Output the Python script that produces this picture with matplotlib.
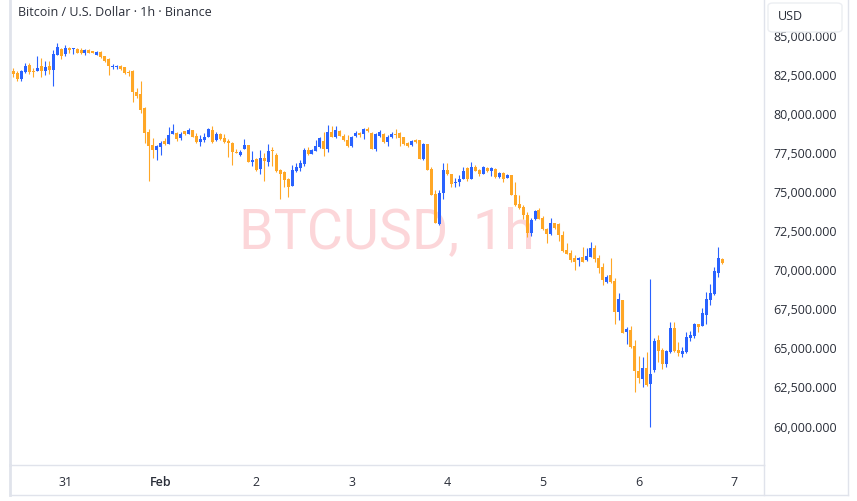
import matplotlib.pyplot as plt
import matplotlib.dates as mdates
from matplotlib.patches import FancyBboxPatch
from matplotlib.lines import Line2D
import numpy as np
import pandas as pd

# hourly BTC/USD candles, Jan 30 11:00 -> Feb 6 21:00
opens = [82692, 82564, 82180, 82628, 83076, 82692, 82692, 83012, 82692, 83012,
         82756, 83716, 84100, 83780, 84164, 84100, 84100, 84036, 83844, 84036,
         83972, 83716, 83908, 83652, 83460, 82948, 82948, 83012, 82948, 82628,
         82692, 81348, 81220, 80324, 78788, 77956, 77636, 77828, 78212, 78020,
         78660, 78724, 78404, 78852, 78660, 78916, 78532, 78148, 78276, 78468,
         78916, 78276, 78660, 78404, 78212, 78084, 77508, 77316, 77700, 77956,
         76868, 77060, 76420, 77124, 76868, 77636, 77316, 76356, 76228, 75780,
         75332, 76292, 76484, 76740, 77636, 77380, 77572, 77828, 78212, 77700,
         78788, 78468, 78852, 78532, 78276, 77892, 78532, 78724, 78660, 78980,
         78724, 77700, 78532, 78660, 78148, 78468, 78660, 78724, 78468, 78084,
         77956, 78276, 78276, 77060, 78020, 76420, 74820, 72900, 74884, 76356,
         76100, 75524, 75588, 75780, 76484, 75780, 76548, 76356, 76100, 76484,
         76292, 76420, 75908, 76164, 75844, 76036, 74756, 74180, 73988, 73476,
         72324, 73220, 73796, 73284, 72580, 72260, 72964, 72900, 72196, 71236,
         71044, 70724, 70596, 70788, 70596, 70788, 71364, 70724, 70148, 69188,
         69636, 69252, 67268, 68036, 65988, 66116, 65092, 63492, 62980, 63684,
         62660, 63556, 65476, 64836, 63940, 64708, 66244, 64836, 64580, 64708,
         65604, 65732, 66500, 66372, 67076, 68036, 68420, 69764, 70660]
highs = [82884, 82692, 82756, 83204, 83204, 82884, 83652, 83524, 83332, 83332,
         84036, 84484, 84164, 84356, 84228, 84164, 84164, 84164, 84100, 84100,
         83972, 83972, 83972, 83652, 83524, 83140, 83076, 83076, 82948, 82756,
         82756, 81604, 82052, 80388, 78980, 78404, 77956, 78212, 78404, 79108,
         79300, 78788, 78788, 78852, 79044, 78916, 78724, 78596, 78724, 79044,
         79172, 78788, 78724, 78660, 78340, 78148, 77700, 77636, 78340, 77956,
         77572, 77124, 77636, 77444, 78020, 77828, 77444, 76420, 76292, 75844,
         76676, 76804, 76996, 77764, 77828, 77700, 78276, 78468, 78788, 79236,
         79172, 79172, 78916, 78660, 78596, 78532, 78852, 78788, 79044, 79108,
         78788, 78724, 78916, 78724, 78596, 78788, 78980, 78788, 78468, 78148,
         78276, 78340, 78276, 78084, 78020, 76548, 75076, 75076, 76804, 76804,
         76100, 75844, 76036, 76548, 76548, 76868, 76676, 76420, 76612, 76548,
         76548, 76484, 76228, 76228, 76100, 76036, 75588, 74756, 74116, 73668,
         73284, 73796, 73924, 73412, 72644, 73284, 72964, 72964, 72452, 71684,
         71236, 70916, 70788, 71428, 71364, 71748, 71556, 70916, 70404, 69636,
         70724, 69444, 68484, 68036, 66308, 66372, 65476, 64452, 64388, 64708,
         69380, 65604, 65796, 64964, 64836, 66628, 66628, 65348, 65028, 65988,
         66052, 66564, 66500, 67524, 68548, 69060, 70148, 71428, 70724]
lows = [82308, 82052, 82052, 82564, 82500, 82308, 82692, 82308, 82436, 82500,
        81732, 83716, 83460, 83652, 83844, 83780, 83844, 83780, 83716, 83844,
        83844, 83716, 83524, 83268, 82436, 82820, 82820, 82756, 82500, 82372,
        80708, 80964, 80004, 78084, 75652, 77124, 76996, 77316, 77956, 78020,
        78660, 78212, 78276, 78596, 78660, 78468, 78084, 77892, 78148, 78468,
        78084, 78212, 78276, 78084, 77188, 76676, 77444, 77252, 77700, 76868,
        76612, 76292, 76100, 75652, 76612, 76612, 76228, 74500, 75268, 74628,
        75332, 76228, 76292, 76612, 77316, 77380, 77572, 77764, 77252, 77508,
        78468, 78404, 78532, 78212, 77828, 77828, 78468, 78468, 78340, 78788,
        77700, 77572, 78468, 78084, 77892, 78404, 78404, 77892, 77956, 77828,
        77892, 78084, 77060, 76996, 76356, 74756, 72964, 72836, 74500, 76036,
        75268, 75268, 75332, 75780, 75652, 75780, 76292, 75972, 76100, 76228,
        75972, 75844, 75844, 75588, 75844, 74756, 74052, 73860, 73220, 72068,
        72132, 73156, 73220, 72516, 71684, 72196, 72580, 71812, 71108, 70980,
        70468, 69956, 70212, 70468, 70532, 70788, 70468, 69764, 68996, 69124,
        69124, 66500, 66756, 65924, 65220, 64964, 62148, 62724, 62468, 62532,
        59908, 63428, 64068, 63620, 63748, 64644, 64708, 64452, 64388, 64644,
        65412, 65604, 65988, 66372, 66500, 67716, 68356, 69508, 70340]
closes = [82500, 82180, 82692, 83012, 82628, 82628, 82884, 82692, 82948, 82756,
          83780, 84228, 83652, 84164, 84036, 84164, 83844, 83844, 84036, 83844,
          83844, 83908, 83588, 83332, 83012, 83012, 83012, 82820, 82564, 82564,
          81348, 81092, 80196, 78724, 77892, 77636, 77892, 78084, 78020, 78596,
          78852, 78340, 78660, 78660, 78916, 78468, 78148, 78340, 78468, 78980,
          78148, 78660, 78340, 78148, 78084, 77508, 77444, 77508, 77956, 76868,
          76996, 76356, 77124, 76932, 77572, 77572, 76292, 76100, 75716, 75268,
          76356, 76548, 76804, 77636, 77380, 77636, 77892, 78404, 77700, 78788,
          78468, 78916, 78532, 78276, 77892, 78468, 78724, 78596, 78980, 78852,
          77700, 78660, 78788, 78148, 78468, 78660, 78596, 78404, 78020, 77892,
          78212, 78148, 77060, 78020, 76356, 74756, 72964, 74884, 76356, 76100,
          75460, 75588, 75780, 76292, 75780, 76548, 76292, 76100, 76548, 76292,
          76484, 75908, 76164, 75780, 76036, 74756, 74116, 73924, 73476, 72324,
          73156, 73732, 73220, 72580, 72260, 72964, 72644, 72196, 71172, 70980,
          70596, 70468, 70724, 70468, 70852, 71364, 70660, 70084, 69316, 69508,
          69188, 67268, 68100, 65924, 66180, 65028, 63492, 63044, 63684, 62596,
          63300, 65412, 64772, 63940, 64772, 66244, 64772, 64644, 64772, 65668,
          65796, 66500, 66308, 67204, 68100, 68484, 69892, 70724, 70404]

price_ticks = [60000, 62500, 65000, 67500, 70000, 72500, 75000, 77500, 80000, 82500, 85000]
day_ticks = ["2026-01-31", "2026-02-01", "2026-02-02", "2026-02-03",
             "2026-02-04", "2026-02-05", "2026-02-06", "2026-02-07"]
day_labels = ["31", "Feb", "2", "3", "4", "5", "6", "7"]

UP = "#2962ff"
DOWN = "#ffa726"
TEXT = "#2a2e39"
LINE = "#e0e3eb"

plt.rcParams["font.family"] = ["Open Sans", "DejaVu Sans"]

times = pd.date_range("2026-01-30 11:00", periods=len(closes), freq="h")
x = mdates.date2num(times)
o = np.array(opens)
h = np.array(highs)
l = np.array(lows)
c = np.array(closes)
colors = np.where(c >= o, UP, DOWN)

W, H = 857, 502
fig = plt.figure(figsize=(W / 100, H / 100), dpi=100)
ax = fig.add_axes([10 / W, (H - 466) / H, 754 / W, 466 / H])

hour = 1 / 24
ax.vlines(x, l, h, colors=colors, linewidth=0.8, zorder=2)
body = np.maximum(np.abs(c - o), 60)
ax.bar(x, body, bottom=np.minimum(o, c), width=0.75 * hour, color=colors,
       linewidth=0, zorder=3)

ax.set_xlim(x[0] - 0.83 * hour, x[0] + 188.5 * hour)
ax.set_ylim(57476, 87300)

# price scale on the right
ax.yaxis.tick_right()
ax.set_yticks(price_ticks)
ax.set_yticklabels([f"{v:,.3f}" for v in price_ticks])
ax.tick_params(axis="y", length=0, pad=6.5, labelsize=9, labelcolor=TEXT)

ax.set_xticks(mdates.date2num(pd.to_datetime(day_ticks)))
ax.set_xticklabels(day_labels)
ax.tick_params(axis="x", length=0, pad=7.5, labelsize=9, labelcolor=TEXT)
for t in ax.get_xticklabels():
    if t.get_text() == "Feb":
        t.set_fontweight("semibold")

ax.spines["top"].set_visible(False)
for side in ["left", "bottom", "right"]:
    ax.spines[side].set_color(LINE)
    ax.spines[side].set_linewidth(1)
ax.spines["left"].set_linewidth(2)

# watermark
ax.text(0.5, 0.5, "BTCUSD, 1h", transform=ax.transAxes, ha="center", va="center",
        fontsize=40, color="#f23645", alpha=0.2, family="Roboto", zorder=1)

# frame of the widget
def px_line(x0, y0, x1, y1, lw=1):
    fig.add_artist(Line2D([x0 / W, x1 / W], [1 - y0 / H, 1 - y1 / H],
                          transform=fig.transFigure, color=LINE, linewidth=lw))

px_line(764, 466, 764, 496)
px_line(10, 466, 10, 496, lw=2)
px_line(10, 496, 848, 496)
px_line(848, 0, 848, 496)

# currency box (covers the top of the 85,000 label)
box = FancyBboxPatch((768 / W, 1 - 33 / H), 74 / W, 29 / H,
                     boxstyle="round,pad=0,rounding_size=0.006",
                     transform=fig.transFigure, facecolor="white",
                     edgecolor="#eceef2", linewidth=1, zorder=10)
fig.add_artist(box)
fig.text(778 / W, 1 - 16 / H, "USD", fontsize=9, color=TEXT, va="center", zorder=11)

fig.text(18 / W, 1 - 13 / H, "Bitcoin / U.S. Dollar · 1h · Binance",
         fontsize=9, color=TEXT, va="center")

fig.savefig("out.png", dpi=100)
